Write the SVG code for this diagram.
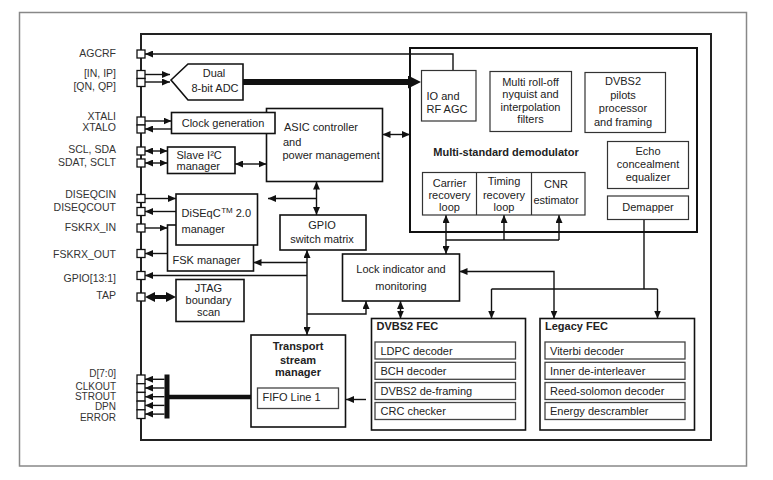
<svg xmlns="http://www.w3.org/2000/svg" width="773" height="480" viewBox="0 0 773 480">
<defs>
<style>
text{font-family:"Liberation Sans",Arial,sans-serif;font-size:11px;fill:#222}
.lbl{font-size:10.5px;text-anchor:end;fill:#333}
.dl{font-size:10px}
.c{text-anchor:middle}
.b{font-weight:bold}
.box{fill:#fff;stroke:#111;stroke-width:1.6}
.ibox{fill:#fff;stroke:#333;stroke-width:1.2}
.sub{fill:#fff;stroke:#444;stroke-width:1.3}
.pin{fill:#fff;stroke:#111;stroke-width:1.3}
.ln{fill:none;stroke:#111;stroke-width:1.4}
.a{marker-end:url(#ah)}
.aa{marker-start:url(#ah);marker-end:url(#ah)}
</style>
<marker id="ah" viewBox="0 0 8 7" refX="8" refY="3.5" markerWidth="8" markerHeight="7" markerUnits="userSpaceOnUse" orient="auto-start-reverse"><path d="M0,0 L8,3.5 L0,7 z" fill="#111"/></marker>
<marker id="big" viewBox="0 0 13 13" refX="0" refY="6.5" markerWidth="13" markerHeight="13" markerUnits="userSpaceOnUse" orient="auto-start-reverse"><path d="M0,0 L13,6.5 L0,13 z" fill="#111"/></marker>
<marker id="mid" viewBox="0 0 10 10" refX="0" refY="5" markerWidth="10" markerHeight="10" markerUnits="userSpaceOnUse" orient="auto-start-reverse"><path d="M0,0 L10,5 L0,10 z" fill="#111"/></marker>
</defs>
<rect width="773" height="480" fill="#fff"/>
<rect x="19.5" y="12.5" width="727" height="453.5" fill="none" stroke="#888" stroke-width="1.5"/>
<g id="chip"><rect x="141" y="34" width="570" height="406" fill="none" stroke="#222" stroke-width="2"/></g>
<g id="demodulator">
<rect x="410" y="48" width="287" height="184" fill="none" stroke="#111" stroke-width="2"/>
<text class="c b" x="506" y="156">Multi-standard demodulator</text>
</g>

<g id="connectors">
<polyline class="ln a" points="453,70.5 453,54 145,54"/>
<line class="ln a" x1="145" y1="74.5" x2="170" y2="74.5"/>
<line class="ln a" x1="145" y1="82" x2="170" y2="82"/>
<line x1="243" y1="82" x2="408" y2="82" stroke="#111" stroke-width="6" marker-end="url(#big)"/>
<line class="ln a" x1="145" y1="121" x2="171.5" y2="121"/>
<line class="ln a" x1="171.5" y1="129" x2="145" y2="129"/>
<line class="ln aa" x1="145" y1="151" x2="167.5" y2="151"/>
<line class="ln aa" x1="145" y1="163" x2="167.5" y2="163"/>
<line class="ln aa" x1="235" y1="164" x2="266.5" y2="164"/>
<line class="ln aa" x1="382.5" y1="134.5" x2="410" y2="134.5"/>
<line class="ln a" x1="145" y1="198.5" x2="176" y2="198.5"/>
<line class="ln a" x1="176" y1="211.5" x2="145" y2="211.5"/>
<line class="ln a" x1="145" y1="228" x2="167.5" y2="228"/>
<line class="ln a" x1="167.5" y1="253.5" x2="145" y2="253.5"/>
<line x1="155" y1="297" x2="166" y2="297" stroke="#111" stroke-width="4" marker-start="url(#mid)" marker-end="url(#mid)"/>
<line class="ln aa" x1="316.5" y1="181.5" x2="316.5" y2="215"/>
<line class="ln a" x1="316.5" y1="198.5" x2="268" y2="198.5"/>
<line class="ln aa" x1="307" y1="250" x2="307" y2="335"/>
<line class="ln a" x1="307" y1="262.5" x2="253.5" y2="262.5"/>
<line class="ln a" x1="307" y1="275.5" x2="145" y2="275.5"/>
<polyline class="ln a" points="307,314 366,314 366,301"/>
<line class="ln aa" x1="446" y1="215" x2="446" y2="254"/>
<line class="ln" x1="446" y1="240" x2="559" y2="240"/>
<line class="ln a" x1="504" y1="240" x2="504" y2="215"/>
<line class="ln a" x1="559" y1="240" x2="559" y2="215"/>
<line class="ln aa" x1="400.5" y1="301" x2="400.5" y2="318.5"/>
<polyline class="ln aa" points="459.5,271.5 554,271.5 554,318.5"/>
<line class="ln" x1="644" y1="219.5" x2="644" y2="289"/>
<line class="ln" x1="491.5" y1="289" x2="657.5" y2="289"/>
<line class="ln a" x1="491.5" y1="289" x2="491.5" y2="318.5"/>
<line class="ln a" x1="657.5" y1="289" x2="657.5" y2="318.5"/>
<line class="ln a" x1="366" y1="399.5" x2="346" y2="399.5"/>
<line x1="251" y1="397" x2="169" y2="397" stroke="#111" stroke-width="4.5"/>
<rect x="164.5" y="374.5" width="5" height="44" fill="#111"/>
<line class="ln a" x1="164.5" y1="379.3" x2="145" y2="379.3"/>
<line class="ln a" x1="164.5" y1="388" x2="145" y2="388"/>
<line class="ln a" x1="164.5" y1="396.7" x2="145" y2="396.7"/>
<line class="ln a" x1="164.5" y1="405.4" x2="145" y2="405.4"/>
<line class="ln a" x1="164.5" y1="414.1" x2="145" y2="414.1"/>
</g>

<g id="pins">
<rect class="pin" x="137" y="50" width="8" height="8"/>
<rect class="pin" x="137" y="70.5" width="8" height="8"/>
<rect class="pin" x="137" y="78.5" width="8" height="8"/>
<rect class="pin" x="137" y="117" width="8" height="8"/>
<rect class="pin" x="137" y="125" width="8" height="8"/>
<rect class="pin" x="137" y="147" width="8" height="8"/>
<rect class="pin" x="137" y="159" width="8" height="8"/>
<rect class="pin" x="137" y="194.5" width="8" height="8"/>
<rect class="pin" x="137" y="207.5" width="8" height="8"/>
<rect class="pin" x="137" y="224" width="8" height="8"/>
<rect class="pin" x="137" y="249.5" width="8" height="8"/>
<rect class="pin" x="137" y="271.5" width="8" height="8"/>
<rect class="pin" x="137" y="293" width="8" height="8"/>
<rect class="pin" x="137" y="375" width="8" height="8.7"/>
<rect class="pin" x="137" y="383.7" width="8" height="8.7"/>
<rect class="pin" x="137" y="392.4" width="8" height="8.7"/>
<rect class="pin" x="137" y="401.1" width="8" height="8.7"/>
<rect class="pin" x="137" y="409.8" width="8" height="8.7"/>
<text class="lbl" x="116" y="57">AGCRF</text>
<text class="lbl" x="116" y="77">[IN, IP]</text>
<text class="lbl" x="116" y="89.5">[QN, QP]</text>
<text class="lbl" x="116" y="120">XTALI</text>
<text class="lbl" x="116" y="131">XTALO</text>
<text class="lbl" x="116" y="153">SCL, SDA</text>
<text class="lbl" x="116" y="165.5">SDAT, SCLT</text>
<text class="lbl" x="116" y="198">DISEQCIN</text>
<text class="lbl" x="116" y="211">DISEQCOUT</text>
<text class="lbl" x="116" y="231">FSKRX_IN</text>
<text class="lbl" x="116" y="258">FSKRX_OUT</text>
<text class="lbl" x="116" y="281.5">GPIO[13:1]</text>
<text class="lbl" x="116" y="299">TAP</text>
<text class="lbl dl" x="116" y="377">D[7:0]</text>
<text class="lbl dl" x="116" y="389.5">CLKOUT</text>
<text class="lbl dl" x="116" y="400">STROUT</text>
<text class="lbl dl" x="116" y="410">DPN</text>
<text class="lbl dl" x="116" y="420.5">ERROR</text>
</g>

<g id="adc"><polygon class="box" points="171,80 188,64 243,64 243,100 188,100"/>
<text class="c" x="214" y="77">Dual</text><text class="c" x="215" y="92">8-bit ADC</text></g>

<g id="asic"><rect class="box" x="266.5" y="108.5" width="116" height="73"/>
<text x="284" y="131">ASIC controller</text><text x="283" y="146">and</text><text x="282.5" y="159">power management</text></g>

<g id="clock"><rect class="box" x="171.5" y="112.5" width="103.5" height="21"/>
<text class="c" x="223" y="126.5">Clock generation</text></g>

<g id="slave-i2c"><rect class="box" x="167.5" y="147" width="67.5" height="26.5"/>
<text x="176.5" y="159">Slave I²C</text><text x="176.5" y="170">manager</text></g>

<g id="fsk"><rect class="box" x="167.5" y="225" width="86" height="46"/>
<text x="172.5" y="264">FSK manager</text></g>

<g id="diseqc"><rect class="box" x="176" y="194" width="81.5" height="51"/>
<text x="181.5" y="216.5">DiSEqC<tspan font-size="8" dx="0.5" dy="-4">TM</tspan><tspan dy="4"> 2.0</tspan></text><text x="181.5" y="233">manager</text></g>

<g id="jtag"><rect class="box" x="176" y="279.5" width="68" height="42"/>
<text class="c" x="208.5" y="291.5">JTAG</text><text class="c" x="208.5" y="303.5">boundary</text><text class="c" x="208.5" y="316">scan</text></g>

<g id="gpio"><rect class="box" x="280" y="215" width="86" height="35"/>
<text class="c" x="322" y="228.5">GPIO</text><text class="c" x="322" y="243">switch matrix</text></g>

<g id="lock"><rect class="box" x="342.5" y="254" width="117" height="47"/>
<text class="c" x="401" y="273">Lock indicator and</text><text class="c" x="401" y="289.5">monitoring</text></g>

<g id="transport"><rect class="box" x="251" y="335" width="94.5" height="92"/>
<text class="c b" x="298" y="350">Transport</text><text class="c b" x="298" y="363.5">stream</text><text class="c b" x="298" y="376">manager</text>
<rect class="sub" x="257.5" y="388" width="81" height="20.5"/><text x="262.5" y="401">FIFO Line 1</text></g>

<g id="io-agc"><rect class="ibox" x="421.5" y="70.5" width="54.5" height="50.5"/>
<text x="426.5" y="99.5">IO and</text><text x="426.5" y="113">RF AGC</text></g>

<g id="rolloff"><rect class="ibox" x="490" y="71.5" width="81.5" height="60"/>
<text class="c" x="530.5" y="86">Multi roll-off</text><text class="c" x="530.5" y="98">nyquist and</text><text class="c" x="530.5" y="110.5">interpolation</text><text class="c" x="530.5" y="122.5">filters</text></g>

<g id="pilots"><rect class="ibox" x="585" y="72.5" width="80.5" height="60"/>
<text class="c" x="623" y="85">DVBS2</text><text class="c" x="623" y="98.5">pilots</text><text class="c" x="623" y="112">processor</text><text class="c" x="623" y="126">and framing</text></g>

<g id="echo"><rect class="ibox" x="607.5" y="141.5" width="81" height="47"/>
<text class="c" x="648" y="154.5">Echo</text><text class="c" x="648" y="168">concealment</text><text class="c" x="648" y="181">equalizer</text></g>

<g id="demapper"><rect class="ibox" x="607.5" y="196" width="81" height="23.5"/>
<text class="c" x="648" y="210.5">Demapper</text></g>

<g id="recovery">
<rect class="ibox" x="422.5" y="172.5" width="162.5" height="42.5"/>
<line x1="476.5" y1="172.5" x2="476.5" y2="215" stroke="#333" stroke-width="1.2"/>
<line x1="531.5" y1="172.5" x2="531.5" y2="215" stroke="#333" stroke-width="1.2"/>
<text class="c" x="449.5" y="186.5">Carrier</text><text class="c" x="449.5" y="198.5">recovery</text><text class="c" x="449.5" y="210.5">loop</text>
<text class="c" x="504" y="185">Timing</text><text class="c" x="504" y="198.5">recovery</text><text class="c" x="504" y="210.5">loop</text>
<text class="c" x="556" y="188">CNR</text><text class="c" x="556" y="203.5">estimator</text>
</g>

<g id="dvbs2-fec"><rect class="box" x="371.5" y="318.5" width="154" height="111.5" stroke-width="2"/>
<text class="b" x="376.5" y="330">DVBS2 FEC</text>
<rect class="sub" x="375" y="342" width="140.5" height="17"/><text x="380.5" y="354.5">LDPC  decoder</text>
<rect class="sub" x="375" y="362.3" width="140.5" height="17"/><text x="380.5" y="374.5">BCH decoder</text>
<rect class="sub" x="375" y="382.5" width="140.5" height="17"/><text x="380.5" y="394.5">DVBS2 de-framing</text>
<rect class="sub" x="375" y="402.5" width="140.5" height="17"/><text x="380.5" y="414.5">CRC checker</text>
</g>

<g id="legacy-fec"><rect class="box" x="540" y="318.5" width="154.5" height="111.5" stroke-width="2"/>
<text class="b" x="545" y="330">Legacy FEC</text>
<rect class="sub" x="545" y="342" width="140" height="17"/><text x="550" y="354.5">Viterbi decoder</text>
<rect class="sub" x="545" y="362.3" width="140" height="17"/><text x="550" y="374.5">Inner de-interleaver</text>
<rect class="sub" x="545" y="382.5" width="140" height="17"/><text x="550" y="394.5">Reed-solomon decoder</text>
<rect class="sub" x="545" y="402.5" width="140" height="17"/><text x="550" y="414.5">Energy descrambler</text>
</g>
</svg>
